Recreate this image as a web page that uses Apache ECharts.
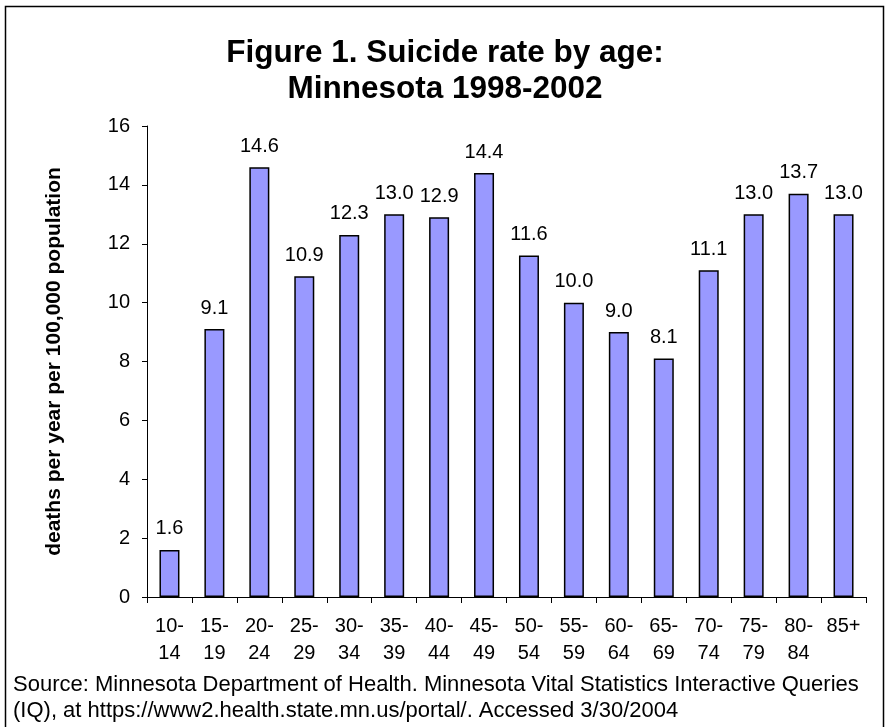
<!DOCTYPE html>
<html>
<head>
<meta charset="utf-8">
<script src="https://cdn.jsdelivr.net/npm/echarts@6/dist/echarts.min.js"></script>
<style>
html,body{margin:0;padding:0;background:#fff;}
#chart{width:890px;height:727px;}
</style>
</head>
<body>
<div id="chart"></div>
<script>
// Age groups (two-line labels) and suicide rates per 100,000 per year
const ageGroups = ['10-\n14','15-\n19','20-\n24','25-\n29','30-\n34','35-\n39','40-\n44','45-\n49','50-\n54','55-\n59','60-\n64','65-\n69','70-\n74','75-\n79','80-\n84','85+'];
const rates = [1.6, 9.1, 14.6, 10.9, 12.3, 13.0, 12.9, 14.4, 11.6, 10.0, 9.0, 8.1, 11.1, 13.0, 13.7, 13.0];
const titleLines = ['Figure 1. Suicide rate by age:', 'Minnesota 1998-2002'];
const yAxisTitle = 'deaths per year per 100,000 population';
const sourceLines = [
  'Source: Minnesota Department of Health. Minnesota Vital Statistics Interactive Queries',
  '(IQ), at https://www2.health.state.mn.us/portal/. Accessed 3/30/2004'
];

const font = 'Arial, "Liberation Sans", sans-serif';
const chart = echarts.init(document.getElementById('chart'));
chart.setOption({
  animation: false,
  backgroundColor: '#fff',
  title: {
    text: titleLines.join('\n'),
    left: 'center',
    top: 30,
    textStyle: { fontFamily: font, fontSize: 31.5, fontWeight: 'bold', color: '#000', lineHeight: 36 }
  },
  grid: { left: 147, right: 24, top: 126, bottom: 130 },
  xAxis: {
    type: 'category',
    data: ageGroups,
    axisLine: { lineStyle: { color: '#000', width: 1 } },
    axisTick: { show: true, length: 6, lineStyle: { color: '#000' } },
    axisLabel: { color: '#000', fontFamily: font, fontSize: 20, lineHeight: 27, margin: 16, interval: 0 }
  },
  yAxis: {
    type: 'value',
    min: 0, max: 16, interval: 2,
    name: yAxisTitle,
    nameLocation: 'middle',
    nameGap: 82,
    nameTextStyle: { fontFamily: font, fontSize: 21, fontWeight: 'bold', color: '#000' },
    axisLine: { show: true, lineStyle: { color: '#000', width: 1 } },
    axisTick: { show: true, inside: false, length: 5, lineStyle: { color: '#000' } },
    axisLabel: { color: '#000', fontFamily: font, fontSize: 20, margin: 17 },
    splitLine: { show: false }
  },
  series: [{
    type: 'bar',
    data: rates,
    barWidth: 20,
    itemStyle: { color: '#9999FF', borderColor: '#000', borderWidth: 1.5 },
    label: {
      show: true,
      position: 'top',
      distance: 11,
      formatter: p => p.value.toFixed(1),
      color: '#000', fontFamily: font, fontSize: 20
    }
  }],
  graphic: [
    {
      type: 'rect',
      shape: { x: 5.5, y: 6.5, width: 878, height: 740 },
      style: { fill: null, stroke: '#000', lineWidth: 1.5 },
      silent: true
    },
    {
      type: 'text',
      left: 13,
      top: 672,
      style: { text: sourceLines.join('\n'), font: '22px ' + font, fill: '#000', lineHeight: 26 }
    }
  ]
});
</script>
</body>
</html>
